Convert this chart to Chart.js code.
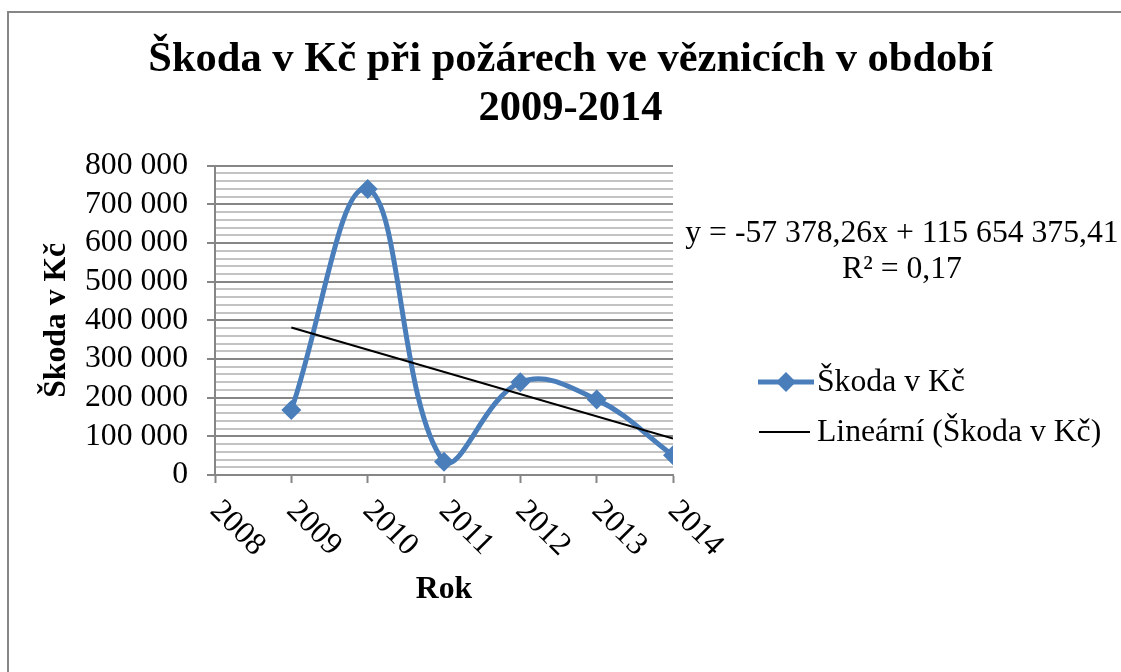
<!DOCTYPE html>
<html lang="cs">
<head>
<meta charset="utf-8">
<title>Škoda v Kč při požárech ve věznicích</title>
<script src="https://cdn.jsdelivr.net/npm/chart.js@4/dist/chart.umd.min.js"></script>
<style>
  html, body { margin: 0; padding: 0; background: #fff; }
  #chart { display: block; }
</style>
</head>
<body>
<canvas id="chart" width="1121" height="672"></canvas>
<script>
// data
const years = [2009, 2010, 2011, 2012, 2013, 2014];
const damage = [168000, 740000, 34000, 240000, 195000, 51000];
const xTickYears = [2008, 2009, 2010, 2011, 2012, 2013, 2014];

// trend line, as given by its label
const trendSlope = -57378.26;
const trendIntercept = 115654375.41;
const trendLabel = ["y = -57 378,26x + 115 654 375,41", "R² = 0,17"];

const seriesName = "Škoda v Kč";
const trendName = "Lineární (Škoda v Kč)";
const titleLines = ["Škoda v Kč při požárech ve věznicích v období", "2009-2014"];

const FONT = "'Liberation Serif', 'Times New Roman', serif";
const TXT = 31.7;
const BLUE = "#4a7ebb";
const AXIS = "#868686";
const MINOR = "#c3c3c3";

function fmt(v) {
  return String(v).replace(/\B(?=(\d{3})+(?!\d))/g, " ");
}

const trendStart = years[0];
const trendEnd = years[years.length - 1];

const decor = {
  id: "decor",
  beforeDraw(chart) {
    const { ctx, width, height } = chart;
    ctx.save();
    ctx.fillStyle = "#fff";
    ctx.fillRect(0, 0, width, height);
    ctx.strokeStyle = AXIS;
    ctx.lineWidth = 2;
    ctx.beginPath();
    ctx.moveTo(8, height);
    ctx.lineTo(8, 12);
    ctx.lineTo(width, 12);
    ctx.stroke();
    ctx.restore();
  },
  afterDraw(chart) {
    const { ctx } = chart;
    const xs = chart.scales.x;
    const bottom = chart.chartArea.bottom;
    ctx.save();
    ctx.fillStyle = "#000";
    ctx.font = `${TXT}px ${FONT}`;

    // rotated year labels
    xTickYears.forEach((yr) => {
      ctx.save();
      ctx.translate(xs.getPixelForValue(yr), bottom + 31);
      ctx.rotate(Math.PI / 4);
      ctx.textAlign = "left";
      ctx.textBaseline = "middle";
      ctx.fillText(String(yr), 0, 0);
      ctx.restore();
    });

    // trend equation
    ctx.textAlign = "center";
    ctx.textBaseline = "alphabetic";
    ctx.fillText(trendLabel[0], 902, 242);
    ctx.fillText(trendLabel[1], 902, 278);

    // legend
    const ds = chart.data.datasets;
    ctx.strokeStyle = ds[0].borderColor;
    ctx.lineWidth = ds[0].borderWidth;
    ctx.beginPath();
    ctx.moveTo(758, 382);
    ctx.lineTo(814, 382);
    ctx.stroke();
    ctx.fillStyle = ds[0].backgroundColor;
    ctx.beginPath();
    ctx.moveTo(786, 372);
    ctx.lineTo(796, 382);
    ctx.lineTo(786, 392);
    ctx.lineTo(776, 382);
    ctx.closePath();
    ctx.fill();

    ctx.strokeStyle = ds[1].borderColor;
    ctx.lineWidth = ds[1].borderWidth;
    ctx.beginPath();
    ctx.moveTo(759, 432);
    ctx.lineTo(810, 432);
    ctx.stroke();

    ctx.fillStyle = "#000";
    ctx.textAlign = "left";
    ctx.fillText(ds[0].label, 817, 391);
    ctx.fillText(ds[1].label, 817, 441);
    ctx.restore();
  }
};

new Chart(document.getElementById("chart"), {
  type: "line",
  data: {
    datasets: [
      {
        label: seriesName,
        data: years.map((x, i) => ({ x, y: damage[i] })),
        borderColor: BLUE,
        backgroundColor: BLUE,
        borderWidth: 5,
        tension: 0.4,
        pointStyle: "rectRot",
        pointRadius: 10,
        pointBorderWidth: 0,
        order: 1
      },
      {
        label: trendName,
        data: [
          { x: trendStart, y: trendSlope * trendStart + trendIntercept },
          { x: trendEnd, y: trendSlope * trendEnd + trendIntercept }
        ],
        borderColor: "#000",
        backgroundColor: "#000",
        borderWidth: 2,
        pointRadius: 0,
        tension: 0,
        order: 0
      }
    ]
  },
  options: {
    responsive: false,
    animation: false,
    events: [],
    layout: { padding: { left: 20, right: 0, top: 0, bottom: 0 } },
    plugins: {
      legend: { display: false },
      tooltip: { enabled: false },
      title: {
        display: true,
        text: titleLines,
        color: "#000",
        font: { family: FONT, size: 42.5, weight: "bold", lineHeight: 1.15 },
        padding: { top: 35.5, bottom: 32.5 }
      }
    },
    scales: {
      x: {
        type: "linear",
        min: 2008,
        max: 2014,
        ticks: { display: false, stepSize: 1 },
        grid: { drawOnChartArea: false, drawTicks: true, tickLength: 8, tickColor: AXIS, tickWidth: 2 },
        border: { color: AXIS, width: 2 },
        title: {
          display: true,
          text: "Rok",
          color: "#000",
          font: { family: FONT, size: TXT, weight: "bold", lineHeight: 1.2 },
          padding: { top: 0, bottom: 63 }
        },
        afterFit(scale) { scale.height = 197; }
      },
      y: {
        min: 0,
        max: 800000,
        ticks: {
          stepSize: 20000,
          autoSkip: false,
          padding: 19,
          color: "#000",
          font: { family: FONT, size: TXT },
          callback: (v) => (v % 100000 === 0 ? fmt(v) : "")
        },
        grid: {
          color: (c) => (c.tick && c.tick.value % 100000 === 0 ? AXIS : MINOR),
          lineWidth: 2,
          tickLength: 8,
          tickWidth: 2,
          tickColor: (c) => (c.tick && c.tick.value % 100000 === 0 ? AXIS : "rgba(0,0,0,0)")
        },
        border: { color: AXIS, width: 2 },
        title: {
          display: true,
          text: "Škoda v Kč",
          color: "#000",
          font: { family: FONT, size: TXT, weight: "bold", lineHeight: 1.2 },
          padding: { top: 18, bottom: 0 }
        },
        afterFit(scale) { scale.width = 195; }
      },
      // empty right-hand axis that keeps room for the equation and legend
      side: {
        position: "right",
        display: true,
        ticks: { display: false },
        grid: { display: false, drawTicks: false },
        border: { display: false },
        afterFit(scale) { scale.width = 448; }
      }
    }
  },
  plugins: [decor]
});
</script>
</body>
</html>
